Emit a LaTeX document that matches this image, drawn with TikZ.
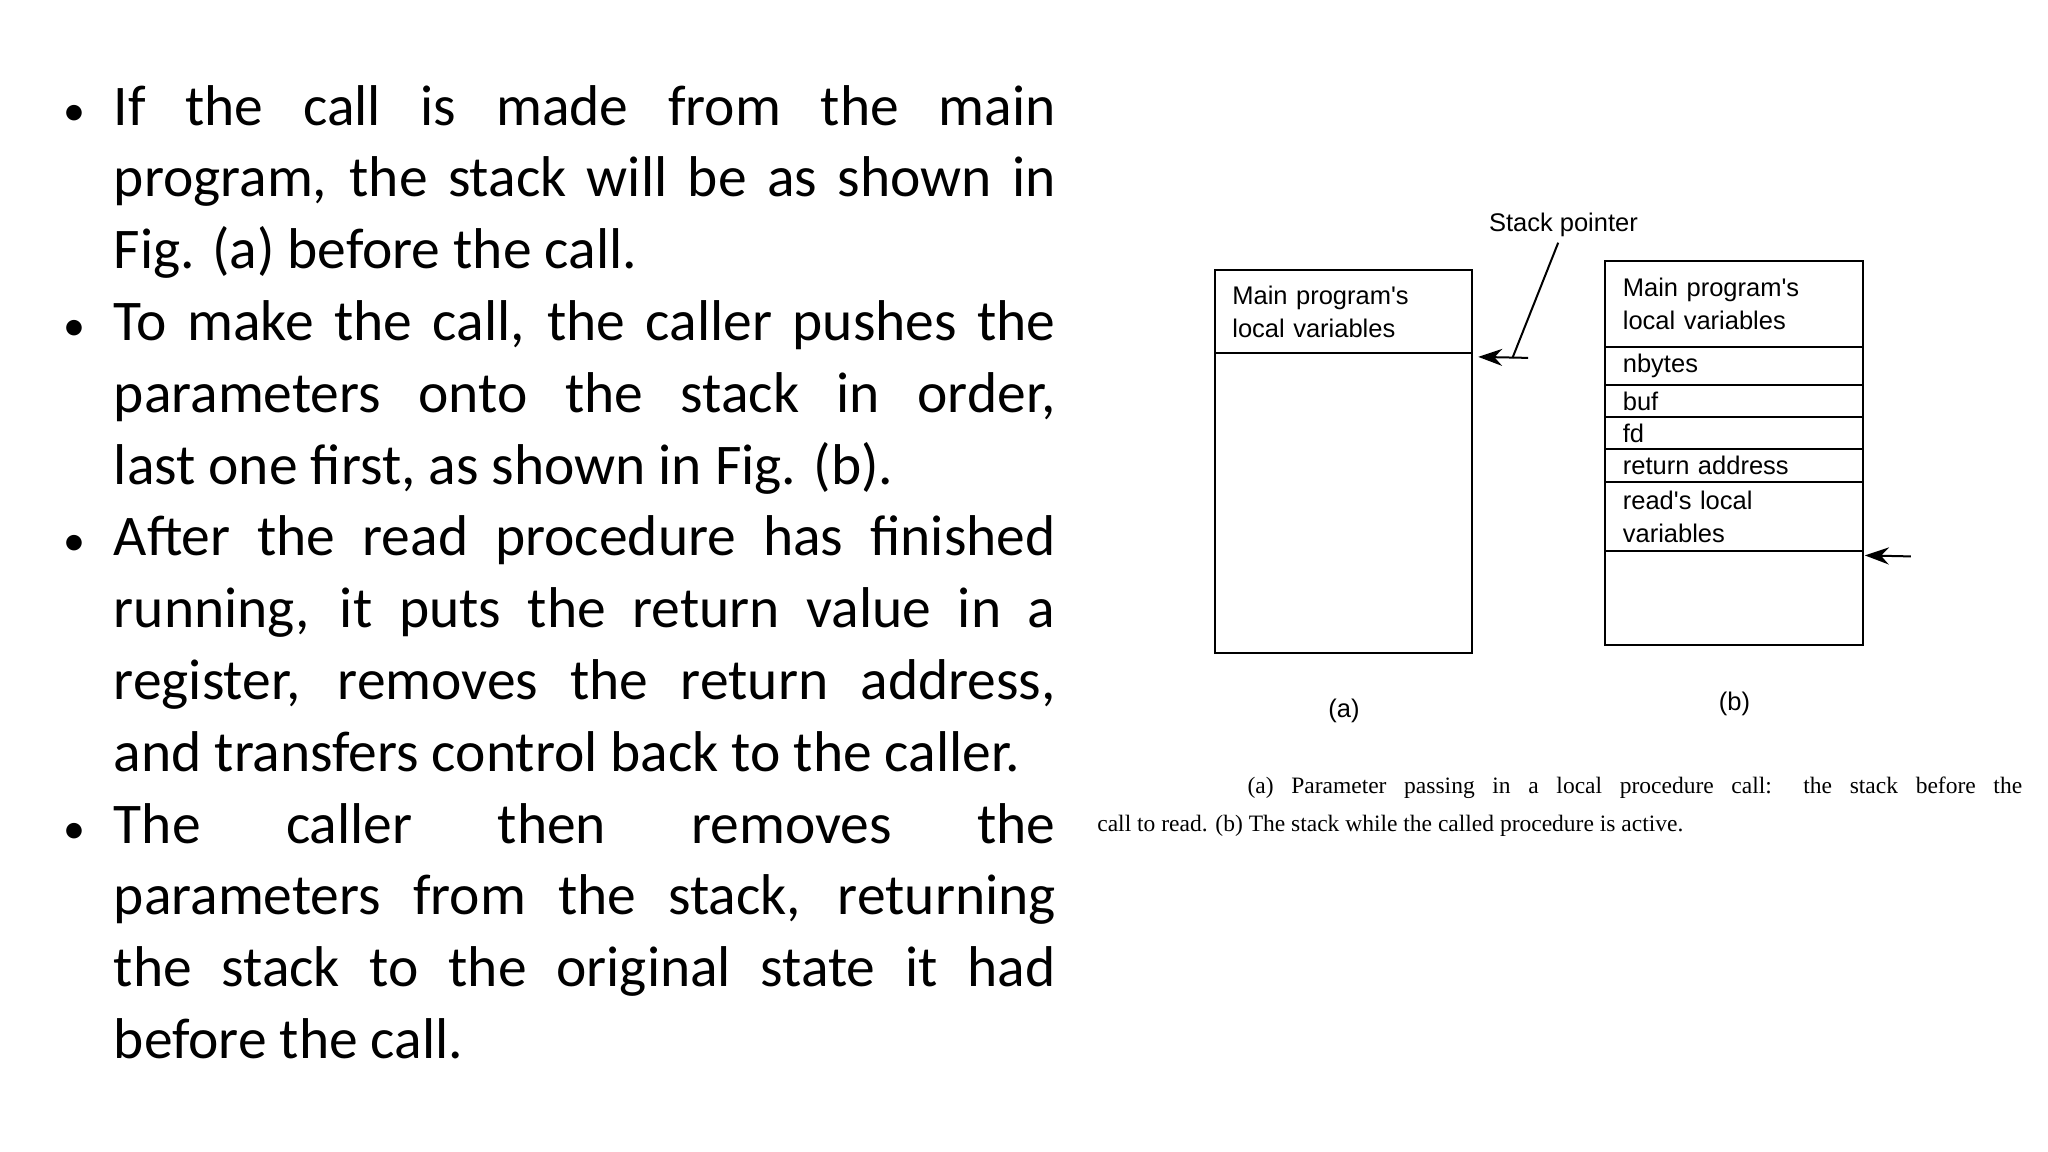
\documentclass[tikz,border=0pt]{standalone}
\usepackage{fontspec}
\setmainfont{Carlito}
\newfontfamily\helv{Liberation Sans}
\newfontfamily\tms{Liberation Serif}
\usetikzlibrary{arrows.meta}
\newdimen\ux \ux=1.306pt
\tikzset{
  cell/.style={draw, line width=2pt, minimum width=197\ux, inner xsep=12\ux, inner ysep=0pt, text width=170\ux, align=left, font=\helv\fontsize{25.5}{33}\selectfont},
  ptr/.style={line width=2pt, -{Stealth[length=24pt,width=17pt]}},
}
\begin{document}
\begin{tikzpicture}[x=\ux,y=-\ux]
\useasboundingbox (0,0) rectangle (1568,882);
% left text
\node[anchor=north west, inner sep=0pt, text width=721\ux, align=justify, font=\fontsize{57.5}{71.8}\selectfont] (txt) at (87,65) {%
\makebox[0pt][r]{{\fontsize{44}{44}\selectfont\textbullet}\hspace{22\ux}}If the call is made from the main\linebreak program, the stack will be as shown in Fig. (a) before the call.\par
\makebox[0pt][r]{{\fontsize{44}{44}\selectfont\textbullet}\hspace{22\ux}}To make the call, the caller pushes the\linebreak parameters onto the stack in order,\linebreak last one first, as shown in Fig. (b).\par
\makebox[0pt][r]{{\fontsize{44}{44}\selectfont\textbullet}\hspace{22\ux}}After the read procedure has finished\linebreak running, it puts the return value in a\linebreak register, removes the return address,\linebreak and transfers control back to the caller.\par
\makebox[0pt][r]{{\fontsize{44}{44}\selectfont\textbullet}\hspace{22\ux}}The caller then removes the\linebreak parameters from the stack, returning\linebreak the stack to the original state it had\linebreak before the call.};
% stack (a)
\node[cell, minimum height=63\ux] (a1) at (1028.5,238.5) {Main program's\\local variables};
\node[cell, minimum height=230\ux] (a2) at (1028.5,385) {};
% stack (b)
\node[cell, minimum height=66\ux] (b1) at (1327.5,233) {Main program's\\local variables};
\node[cell, minimum height=29\ux] (b2) at (1327.5,280.5) {nbytes};
\node[cell, minimum height=24\ux] (b3) at (1327.5,307) {buf};
\node[cell, minimum height=25\ux] (b4) at (1327.5,331.5) {fd};
\node[cell, minimum height=25\ux] (b5) at (1327.5,356.5) {return address};
\node[cell, minimum height=53\ux] (b6) at (1327.5,395.5) {read's local\\variables};
\node[cell, minimum height=72\ux] (b7) at (1327.5,458) {};
% stack pointer
\node[font=\helv\fontsize{25.5}{28}\selectfont] (sp) at (1197,172) {Stack pointer};
\coordinate (bend) at (1158,274);
\coordinate (spa) at (1170,274);
\coordinate (spb) at (1463,426);
\draw[line width=2pt] ([xshift=-4\ux,yshift=-2\ux]sp.south) -- (bend);
\draw[ptr] (spa) -- ([xshift=4\ux,yshift=-4\ux]a2.north east);
\draw[ptr] (spb) -- ([xshift=1\ux,yshift=-4\ux]b7.north east);
\node[font=\helv\fontsize{25.5}{28}\selectfont] (la) at (1029,544) {(a)};
\node[font=\helv\fontsize{25.5}{28}\selectfont] (lb) at (1328,539) {(b)};
% caption
\node[anchor=north west, inner sep=0pt, text width=708\ux, align=justify, font=\tms\fontsize{23.5}{38}\selectfont] (cap) at (840,595) {%
\hspace*{115\ux}(a) Parameter passing in a local procedure call: the stack before the\linebreak call to read. (b) The stack while the called procedure is active.};
\end{tikzpicture}
\end{document}
